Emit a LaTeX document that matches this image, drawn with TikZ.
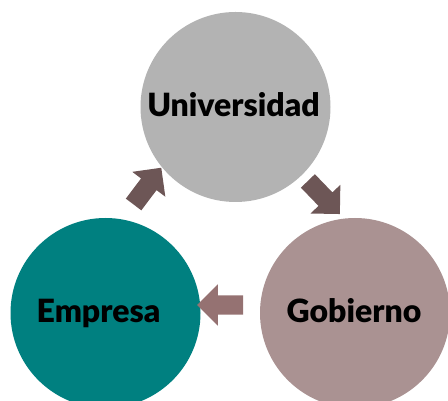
\documentclass[tikz,border=0pt]{standalone}
\usepackage{fontspec}
\setmainfont{Lato}[BoldFont=Lato Black]
\usetikzlibrary{shapes.arrows}
\begin{document}
\begin{tikzpicture}[x=1pt, y=1pt]
\definecolor{mygray}{HTML}{B3B3B3}
\definecolor{myteal}{HTML}{008080}
\definecolor{mymauve}{HTML}{AA9292}
\definecolor{arrowdark}{HTML}{6D5656}
\definecolor{arrowlight}{HTML}{957272}
\tikzset{
	sphere/.style={
		shape=circle,
		minimum size=190pt,
		inner sep=0pt,
	},
	sphere text/.style={
		inner sep=0pt,
		text height=20pt,
		text depth=0pt,
		font=\fontsize{32}{33}\selectfont\bfseries,
		text=black,
	},
	blockarrow/.style={
		shape=single arrow,
		minimum height=46pt,
		minimum width=41pt,
		inner sep=9.5pt,
		single arrow head extend=11pt,
		draw=none,
	},
}
\useasboundingbox (0,0) rectangle (448,401);
\node[sphere, fill=mygray, label={[sphere text, xshift=-2pt]center:Universidad}] (uni) at (235.5,294) {};
\node[sphere, fill=myteal, label={[sphere text, xshift=-7pt]center:Empresa}] (emp) at (105.5,88) {};
\node[sphere, fill=mymauve, label={[sphere text, xshift=-1pt]center:Gobierno}] (gob) at (355,88) {};
\begin{scope}[blockarrow]
\node[fill=arrowdark, rotate=53] (a1) at (144.5,211) {};
\node[fill=arrowdark, rotate=-46] (a2) at (320.5,207) {};
\node[fill=arrowlight, rotate=180] (a3) at (225,96) {};
\end{scope}
\end{tikzpicture}
\end{document}
